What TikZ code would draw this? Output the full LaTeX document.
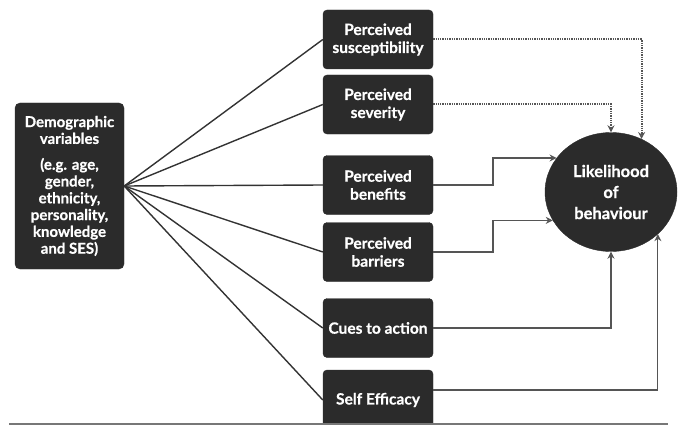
\documentclass[tikz,border=0pt]{standalone}
\usepackage{fontspec}
\setmainfont{Lato}
\newfontfamily\heavy[BoldFeatures={FakeBold=0.6}]{Lato}
\usetikzlibrary{arrows.meta,shapes.geometric}
\definecolor{boxfill}{HTML}{2B2B2B}
\definecolor{linkgray}{HTML}{555555}
\definecolor{demoline}{HTML}{333333}
\begin{document}
\begin{tikzpicture}[x=1pt,y=-1pt,
  factor/.style={draw=boxfill,fill=boxfill,rounded corners=4pt,minimum width=110pt,minimum height=59pt,
    text=white,font=\heavy\fontsize{15.5}{18}\selectfont\bfseries,align=center,inner sep=1pt},
  demo/.style={draw=boxfill,fill=boxfill,rounded corners=5pt,minimum width=109pt,minimum height=166pt,
    text=white,font=\heavy\fontsize{15}{16.8}\selectfont\bfseries,align=center,inner sep=1pt},
  outcome/.style={ellipse,draw=boxfill,fill=boxfill,minimum width=132pt,minimum height=119pt,
    text=white,font=\heavy\fontsize{16.5}{21}\selectfont\bfseries,align=center,inner sep=0pt},
  fan/.style={draw=demoline,line width=1.4pt},
  solidlink/.style={draw=linkgray,line width=1.2pt,-{Stealth[length=7pt,width=7pt,open]}},
  dottedlink/.style={draw=linkgray,line width=2pt,dash pattern=on 1.3pt off 1pt,-{Stealth[length=7pt,width=7pt,open,line width=1.2pt]}}
]
\useasboundingbox (0,0) rectangle (682,425);
\node[demo] (demo) at (69.5,186) {Demographic\\variables\\[9pt](e.g. age,\\gender,\\ethnicity,\\personality,\\knowledge\\and SES)};
\node[factor] (sus) at (378,39.5) {Perceived\\susceptibility};
\node[factor] (sev) at (378,104.5) {Perceived\\severity};
\node[factor] (ben) at (378,185) {Perceived\\benefits};
\node[factor] (bar) at (378,252) {Perceived\\barriers};
\node[factor] (cue) at (378,328) {Cues to action};
\node[factor,minimum height=60pt] (self) at (378,400) {Self Efficacy};
\node[outcome] (circ) at (611,192) {Likelihood\\of\\behaviour};
\coordinate (jb) at (493,0);
% fan lines
\foreach \t in {sus,sev,ben,bar,cue,self}{
  \draw[fan] (demo.east) -- (\t.west);
}
% links to outcome
\draw[dottedlink] (sus.east) -| (circ.60);
\draw[dottedlink] (sev.east) -| (circ.north);
\draw[solidlink] (ben.east) -- (ben.east -| jb) |- (circ.148);
\draw[solidlink] (bar.east) -- (bar.east -| jb) |- (circ.206);
\draw[solidlink] (cue.east) -| (circ.south);
\draw[solidlink] ([yshift=10pt]self.east) -| (circ.-42);
% base line
\coordinate (bl) at (9,424);
\coordinate (br) at (668,424);
\draw[draw=linkgray!80,line width=1.2pt] (bl) -- (br);
\end{tikzpicture}
\end{document}
